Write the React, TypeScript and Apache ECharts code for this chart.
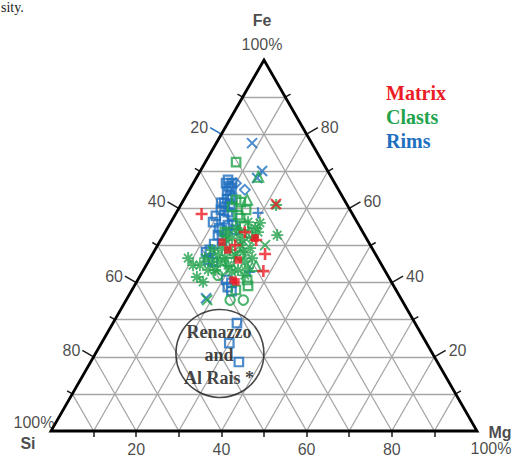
import React, { useEffect, useRef } from "react";
import * as echarts from "echarts";

// Each point: [Fe, Si, Mg] in %
type T = [number, number, number];

const matrixPlus: T[] = [
  [58.5, 35.4, 6.1], [51.5, 26.1, 22.4], [47.7, 25.9, 26.4], [43.1, 28.6, 28.3],
  [50.1, 31.7, 18.2], [53.6, 27.7, 18.7],
];
const matrixCross: T[] = [[61.2, 16.6, 22.2]];
const matrixSquare: T[] = [
  [50.9, 34.4, 14.7], [40.7, 36.9, 22.4], [40.2, 36.5, 23.3], [52.0, 26.1, 21.9],
  [48.8, 34.1, 17.1], [46.1, 33.0, 20.9],
];

const clastsSquare: T[] = [
  [72.5, 20.3, 7.2], [62.3, 25.4, 12.3], [61.7, 24.6, 13.7], [40.7, 33.6, 25.7],
  [39.1, 34.2, 26.7], [55.3, 27.0, 17.7], [53.6, 32.4, 14.0], [58.2, 27.0, 14.8],
  [60.4, 27.3, 12.3], [57.4, 26.9, 15.7], [59.6, 24.4, 16.0], [45.6, 35.2, 19.2],
  [38.0, 37.6, 24.4],
];
const clastsCircle: T[] = [
  [35.3, 40.3, 24.4], [35.3, 37.2, 27.5], [43.4, 38.2, 18.4], [42.0, 39.8, 18.2],
  [47.4, 31.9, 20.7],
];
const clastsTriangle: T[] = [
  [62.3, 22.8, 14.9], [68.5, 17.1, 14.4], [53.6, 26.5, 19.9], [44.5, 29.6, 25.9],
];
const clastsStar: T[] = [
  [60.9, 16.7, 22.4], [52.8, 20.5, 26.7], [56.1, 22.9, 21.0], [44.7, 44.3, 11.0],
  [44.7, 42.7, 12.6], [41.5, 45.0, 13.5], [48.8, 33.6, 17.6], [47.4, 33.1, 19.5],
  [46.6, 35.9, 17.5], [50.1, 30.5, 19.4], [45.6, 31.7, 22.7], [44.7, 36.1, 19.2],
  [43.4, 34.4, 22.2], [49.3, 28.6, 22.1], [49.3, 35.2, 15.5], [52.0, 31.5, 16.5],
  [51.5, 29.4, 19.1], [43.4, 39.8, 16.8], [46.6, 29.5, 23.9], [46.6, 40.5, 12.9],
  [54.7, 24.7, 20.6], [45.6, 39.4, 15.0], [56.3, 25.6, 18.1], [51.5, 33.2, 15.3],
  [54.7, 29.2, 16.1], [47.4, 37.1, 15.5], [43.4, 41.4, 15.2], [42.9, 36.1, 21.0],
  [43.9, 31.8, 24.3], [48.2, 30.8, 21.0], [53.6, 32.1, 14.3], [52.0, 26.8, 21.2],
  [53.6, 24.6, 21.8], [53.6, 28.8, 17.6], [45.6, 37.5, 16.9], [42.0, 33.5, 24.5],
  [48.8, 37.8, 13.4], [46.6, 44.5, 8.9], [40.2, 44.2, 15.6],
];
const clastsCross: T[] = [[35.3, 45.7, 19.0], [50.1, 24.7, 25.2]];

const rimsSquare: T[] = [
  [67.7, 24.6, 7.7], [66.0, 25.2, 8.8], [64.7, 26.3, 9.0], [63.6, 26.2, 10.2],
  [62.5, 27.4, 10.1], [61.5, 28.6, 9.9], [60.9, 27.5, 11.6], [59.6, 30.3, 10.1],
  [59.0, 29.0, 12.0], [58.0, 32.3, 9.7], [57.1, 30.8, 12.1], [56.3, 33.8, 9.9],
  [54.7, 33.2, 12.1], [55.5, 29.5, 15.0], [48.8, 38.3, 12.9], [46.1, 40.0, 13.9],
  [45.6, 39.2, 15.2], [38.8, 39.1, 22.1], [37.7, 38.8, 23.5], [40.7, 38.5, 20.8],
  [29.1, 41.8, 29.1], [23.7, 46.3, 30.0], [18.6, 46.6, 34.8], [51.5, 34.1, 14.4],
  [58.2, 28.4, 13.4], [48.2, 39.5, 12.3], [39.9, 37.7, 22.4], [66.8, 24.1, 9.1],
  [61.5, 29.3, 9.2], [66.8, 25.5, 7.7], [65.5, 24.9, 9.6], [60.4, 29.0, 10.6],
  [62.8, 26.1, 11.1], [55.5, 30.7, 13.8], [54.2, 32.8, 13.0], [52.8, 34.4, 12.8],
  [54.2, 29.7, 16.1], [50.4, 36.5, 13.1],
];
const rimsCross: T[] = [[77.6, 14.0, 8.4], [70.1, 15.4, 14.5], [68.2, 17.5, 14.3], [35.8, 45.7, 18.5]];
const rimsPlus: T[] = [[58.8, 22.0, 19.2], [42.9, 31.9, 25.2]];
const rimsDiamond: T[] = [[65.0, 22.0, 13.0], [66.8, 23.2, 10.0]];

// Renazzo and Al Rais field (circle centre)
const renazzoCentre: T = [20.9, 49.9, 29.2];

const tickValues = [10, 20, 30, 40, 50, 60, 70, 80, 90];
const labeledTicks = [20, 40, 60, 80];

const RED = "#ec1c24";
const GREEN = "#22a34b";
const BLUE = "#1f6fbf";
const INK = "#1a1a1a";

const GRID = { left: 51, top: 60, width: 426, height: 371 };
const PX = GRID.width / 100;
const PY = GRID.height / 100;

const toXY = (t: T): [number, number] => [t[2] + t[0] / 2, t[0]];

const PLUS = "path://M5,0L5,10M0,5L10,5";
const CROSS = "path://M0,0L10,10M10,0L0,10";
const STAR = "path://M5,0L5,10M0,5L10,5M1.5,1.5L8.5,8.5M8.5,1.5L1.5,8.5";

function App() {
  const ref = useRef<HTMLDivElement>(null);
  useEffect(() => {
    if (!ref.current) return;
    const chart = echarts.init(ref.current, undefined, { renderer: "svg" });

    const gridLines: any[] = [];
    for (const v of tickValues) {
      gridLines.push({ coords: [toXY([v, 100 - v, 0]), toXY([v, 0, 100 - v])] });
      gridLines.push({ coords: [toXY([0, v, 100 - v]), toXY([100 - v, v, 0])] });
      gridLines.push({ coords: [toXY([0, 100 - v, v]), toXY([100 - v, 0, v])] });
    }

    const ticks: any[] = [];
    const leftLabels: any[] = [];
    const rightLabels: any[] = [];
    const bottomLabels: any[] = [];
    for (const v of tickValues) {
      const major = labeledTicks.includes(v);
      const L = major ? 13 : 6;
      const pL = toXY([100 - v, v, 0]);
      const eL: [number, number] = [pL[0] - (0.866 * L) / PX, pL[1] + (0.5 * L) / PY];
      ticks.push({ coords: [pL, eL], lineStyle: v === 20 ? { color: BLUE } : undefined });
      const pR = toXY([v, 0, 100 - v]);
      const eR: [number, number] = [pR[0] + (0.866 * L) / PX, pR[1] + (0.5 * L) / PY];
      ticks.push({ coords: [pR, eR] });
      const pB = toXY([0, 100 - v, v]);
      const eB: [number, number] = [pB[0], pB[1] - 6 / PY];
      ticks.push({ coords: [pB, eB] });
      if (major) {
        leftLabels.push({ value: eL, label: { formatter: String(v) } });
        rightLabels.push({ value: eR, label: { formatter: String(v) } });
        bottomLabels.push({ value: eB, label: { formatter: String(v) } });
      }
    }

    const labelBase = {
      show: true,
      fontFamily: "Liberation Sans",
      fontSize: 16,
      color: INK,
      textBorderWidth: 0,
    };
    const labelSeries = (data: any[], position: string, distance: number) => ({
      type: "scatter",
      symbolSize: 0,
      silent: true,
      clip: false,
      data,
      label: { ...labelBase, position, distance },
      z: 5,
    });

    const hollow = (color: string, w = 2) => ({ color: "rgba(0,0,0,0)", borderColor: color, borderWidth: w });
    const pts = (arr: T[]) => arr.map(toXY);
    const sc = (name: string, data: T[], symbol: string, size: number, itemStyle: any) => ({
      name,
      type: "scatter",
      data: pts(data),
      symbol,
      symbolSize: size,
      itemStyle,
      silent: true,
      z: 3,
    });

    const apex = toXY([100, 0, 0]);
    const siV = toXY([0, 100, 0]);
    const mgV = toXY([0, 0, 100]);

    chart.setOption({
      animation: false,
      backgroundColor: "#ffffff",
      grid: { ...GRID },
      xAxis: { type: "value", min: 0, max: 100, show: false },
      yAxis: { type: "value", min: 0, max: 100, show: false },
      legend: {
        orient: "vertical",
        left: 380,
        top: 83,
        padding: 0,
        itemWidth: 0,
        itemHeight: 0,
        itemGap: 4,
        icon: "rect",
        selectedMode: false,
        textStyle: { fontFamily: "Liberation Serif", fontWeight: "bold", fontSize: 20, lineHeight: 20 },
        data: [
          { name: "Matrix", textStyle: { color: RED } },
          { name: "Clasts", textStyle: { color: GREEN } },
          { name: "Rims", textStyle: { color: BLUE } },
        ],
      },
      graphic: [
        {
          type: "text",
          x: 1,
          y: 0,
          style: { text: "sity.", fontSize: 14, fontFamily: "Liberation Serif", fill: "#1a1a1a", verticalAlign: "top" },
        },
      ],
      series: [
        {
          type: "lines",
          coordinateSystem: "cartesian2d",
          silent: true,
          clip: false,
          lineStyle: { color: "#a6a6a6", width: 1.3, opacity: 1 },
          data: gridLines,
          z: 1,
        },
        {
          type: "lines",
          coordinateSystem: "cartesian2d",
          silent: true,
          clip: false,
          lineStyle: { color: INK, width: 1.5, opacity: 1 },
          data: ticks,
          z: 2,
        },
        {
          type: "lines",
          coordinateSystem: "cartesian2d",
          polyline: true,
          silent: true,
          clip: false,
          lineStyle: { color: "#000", width: 2.8, opacity: 1, join: "miter" },
          data: [{ coords: [siV, mgV, apex, siV, mgV] }],
          z: 2,
        },
        sc("Rims", rimsSquare, "rect", 8.5, hollow(BLUE, 2.2)),
        sc("Rims", rimsCross, CROSS, 10, hollow(BLUE, 2)),
        sc("Rims", rimsPlus, PLUS, 11, hollow(BLUE, 2.2)),
        sc("Rims", rimsDiamond, "diamond", 10, hollow(BLUE, 1.8)),
        sc("Clasts", clastsStar, STAR, 12, hollow(GREEN, 1.9)),
        sc("Clasts", clastsSquare, "rect", 8.5, hollow(GREEN, 2.2)),
        sc("Clasts", clastsCircle, "circle", 9.5, hollow(GREEN, 2.1)),
        sc("Clasts", clastsTriangle, "triangle", 10, hollow(GREEN, 2)),
        sc("Clasts", clastsCross, CROSS, 10, hollow(GREEN, 2)),
        sc("Matrix", matrixSquare, "rect", 7.5, { color: RED }),
        sc("Matrix", matrixPlus, PLUS, 12, hollow(RED, 2.6)),
        sc("Matrix", matrixCross, CROSS, 10, hollow(RED, 2.2)),
        {
          type: "scatter",
          silent: true,
          data: [toXY(renazzoCentre)],
          symbol: "circle",
          symbolSize: 88,
          itemStyle: { color: "rgba(0,0,0,0)", borderColor: "#1a1a1a", borderWidth: 1.6 },
          label: {
            show: true,
            position: "inside",
            formatter: "Renazzo\nand\nAl Rais *",
            fontFamily: "Liberation Serif",
            fontWeight: "bold",
            fontSize: 18,
            lineHeight: 23,
            color: "#111111",
            textBorderWidth: 0,
            offset: [-1, 2],
          },
          z: 4,
        },
        labelSeries(leftLabels, "left", 2),
        labelSeries(rightLabels, "right", 3),
        labelSeries(bottomLabels, "bottom", 4),
        {
          type: "scatter",
          symbolSize: 0,
          silent: true,
          clip: false,
          z: 5,
          label: { ...labelBase, position: "inside" },
          data: [
            { value: apex, label: { formatter: "100%", offset: [-2, -16] } },
            { value: apex, label: { formatter: "Fe", fontWeight: "bold", offset: [-2, -40] } },
            { value: siV, label: { formatter: "100%", offset: [-17, -9] } },
            { value: siV, label: { formatter: "Si", fontWeight: "bold", offset: [-23, 12] } },
            { value: mgV, label: { formatter: "Mg", fontWeight: "bold", offset: [23, 1] } },
            { value: mgV, label: { formatter: "100%", offset: [14, 17] } },
          ],
        },
      ],
    });
    return () => chart.dispose();
  }, []);
  return (
    <div
      ref={ref}
      style={{ position: "fixed", left: 0, top: 0, width: 517, height: 458, background: "#fff" }}
    />
  );
}

export default App;
